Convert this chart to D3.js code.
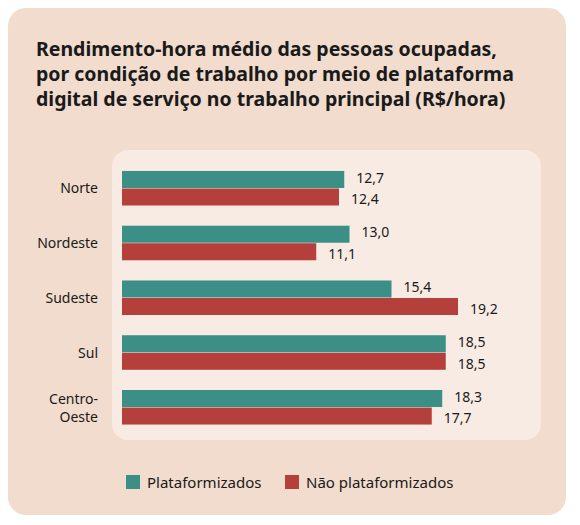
<!DOCTYPE html>
<html><head><meta charset="utf-8">
<script src="https://cdn.jsdelivr.net/npm/d3@7"></script>
<style>body{margin:0;background:#fff}svg{display:block;font-family:"Noto Sans",sans-serif}</style>
</head><body><svg id="c" width="580" height="525"></svg>
<script>
const categories = ['Norte', 'Nordeste', 'Sudeste', 'Sul', 'Centro-Oeste'];
const plataformizados = [12.7, 13.0, 15.4, 18.5, 18.3];
const naoPlataformizados = [12.4, 11.1, 19.2, 18.5, 17.7];
const seriesNames = ['Plataformizados', 'Não plataformizados'];
const colors = ['#3b8f87', '#b5403b'];
const titleLines = ['Rendimento-hora médio das pessoas ocupadas,',
	'por condição de trabalho por meio de plataforma',
	'digital de serviço no trabalho principal (R$/hora)'];

const svg = d3.select('#c');
svg.append('rect').attr('x', 8).attr('y', 8).attr('width', 558).attr('height', 507)
	.attr('rx', 18).attr('fill', '#f1dccd');
svg.append('rect').attr('x', 112).attr('y', 150).attr('width', 429).attr('height', 290)
	.attr('rx', 16).attr('fill', '#f8ebe3');

svg.selectAll('text.title').data(titleLines).enter().append('text')
	.attr('class', 'title').attr('x', 36).attr('y', (d, i) => 56 + i * 25)
	.attr('font-size', 19.5).attr('font-weight', 'bold').attr('fill', '#1a1a1a').text(d => d);

const x = d3.scaleLinear().domain([0, 19.2]).range([122, 458]);
const y = d3.scaleBand().domain(categories).range([160, 436]).paddingInner(0.36).paddingOuter(0.2);
const sub = d3.scaleBand().domain([0, 1]).range([0, y.bandwidth()]);

categories.forEach((c, i) => {
	const vals = [plataformizados[i], naoPlataformizados[i]];
	vals.forEach((v, j) => {
		svg.append('rect').attr('x', x(0)).attr('y', y(c) + sub(j))
			.attr('width', x(v) - x(0)).attr('height', sub.bandwidth() - 0.5).attr('fill', colors[j]);
		svg.append('text').attr('x', x(v) + 12)
			.attr('y', y(c) + sub(j) + sub.bandwidth() / 2 + 5 + (j === 0 ? -2 : 2))
			.attr('font-size', 14).attr('fill', '#1a1a1a').text(d3.format('.1f')(v).replace('.', ','));
	});
	const parts = c === 'Centro-Oeste' ? ['Centro-', 'Oeste'] : [c];
	parts.forEach((p, k) => {
		svg.append('text').attr('x', 98).attr('text-anchor', 'end')
			.attr('y', y(c) + y.bandwidth() / 2 + 5 + (k - (parts.length - 1) / 2) * 18)
			.attr('font-size', 14).attr('fill', '#1a1a1a').text(p);
	});
});

const lx = [126, 285];
seriesNames.forEach((s, j) => {
	svg.append('rect').attr('x', lx[j]).attr('y', 475).attr('width', 14).attr('height', 14).attr('fill', colors[j]);
	svg.append('text').attr('x', lx[j] + 21).attr('y', 488).attr('font-size', 15).attr('fill', '#1a1a1a').text(s);
});
</script></body></html>
